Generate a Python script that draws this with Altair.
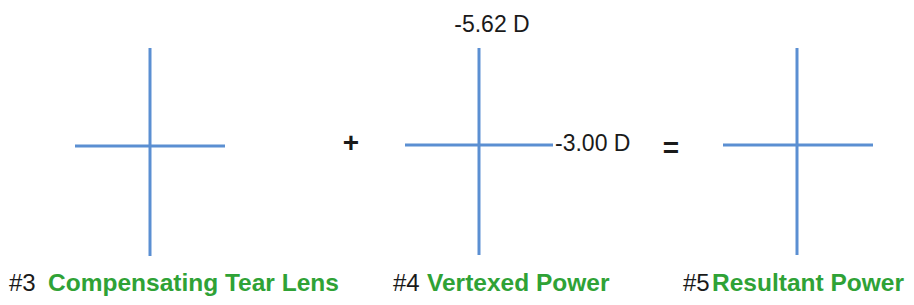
import altair as alt
import pandas as pd

# Diagram coordinates (chart space, origin at top-left of plot area)
prefixes = ["#3", "#4", "#5"]
titles = ["Compensating Tear Lens", "Vertexed Power", "Resultant Power"]
prefix_x = [1, 385, 675]
title_x = [40, 419, 704]
label_y = [283, 283, 283]

cross_x = [142, 471, 789]
cross_y = [138, 137, 137]
vert_top = [40, 40, 40]
vert_bottom = [248, 247, 247]
horiz_left = [67, 397, 715]
horiz_right = [217, 545, 865]

operators = ["+", "="]
op_x = [343, 663]
op_y = [136, 141]

powers = ["-5.62 D", "-3.00 D"]
power_x = [484, 547]
power_y = [24, 143]
power_align = ["center", "left"]

W, H = 898, 289
BLUE = "#5b8fd2"
GREEN = "#2fa236"
FONT = "Liberation Sans"

crosses = pd.DataFrame({
    "cx": cross_x, "cy": cross_y, "top": vert_top, "bottom": vert_bottom,
    "left": horiz_left, "right": horiz_right,
})
labels = pd.DataFrame({"prefix": prefixes, "title": titles, "px": prefix_x,
                       "tx": title_x, "y": label_y})
ops = pd.DataFrame({"op": operators, "x": op_x, "y": op_y})
pw = pd.DataFrame({"p": powers, "x": power_x, "y": power_y, "align": power_align})

xs = alt.Scale(domain=[0, W])
ys = alt.Scale(domain=[0, H], reverse=True)

def X(f):
    return alt.X(f, type="quantitative", scale=xs, axis=None)

def Y(f):
    return alt.Y(f, type="quantitative", scale=ys, axis=None)

vert = alt.Chart(crosses).mark_rule(color=BLUE, strokeWidth=3).encode(
    x=X("cx"), y=Y("top"), y2="bottom")
horiz = alt.Chart(crosses).mark_rule(color=BLUE, strokeWidth=3).encode(
    x=X("left"), x2="right", y=Y("cy"))

prefix_text = alt.Chart(labels).mark_text(
    align="left", baseline="alphabetic", font=FONT, fontSize=24, color="#1a1a1a"
).encode(x=X("px"), y=Y("y"), text="prefix")
title_text = alt.Chart(labels).mark_text(
    align="left", baseline="alphabetic", font=FONT, fontSize=24.5, fontWeight="bold", color=GREEN
).encode(x=X("tx"), y=Y("y"), text="title")

op_text = alt.Chart(ops).mark_text(
    align="center", baseline="middle", font=FONT, fontSize=28, fontWeight="bold",
    color="#1a1a1a"
).encode(x=X("x"), y=Y("y"), text="op")

pw_center = alt.Chart(pw).transform_filter(alt.datum.align == "center").mark_text(
    align="center", baseline="alphabetic", font=FONT, fontSize=23, color="#1a1a1a"
).encode(x=X("x"), y=Y("y"), text="p")
pw_left = alt.Chart(pw).transform_filter(alt.datum.align == "left").mark_text(
    align="left", baseline="alphabetic", font=FONT, fontSize=23, color="#1a1a1a"
).encode(x=X("x"), y=Y("y"), text="p")

chart = alt.layer(vert, horiz, prefix_text, title_text, op_text, pw_center, pw_left).properties(
    width=W, height=H, padding=0, autosize=alt.AutoSizeParams(type="none"),
    background="white"
).configure_view(stroke=None)

chart.save("out.html", embed_options={"renderer": "svg", "actions": False})
